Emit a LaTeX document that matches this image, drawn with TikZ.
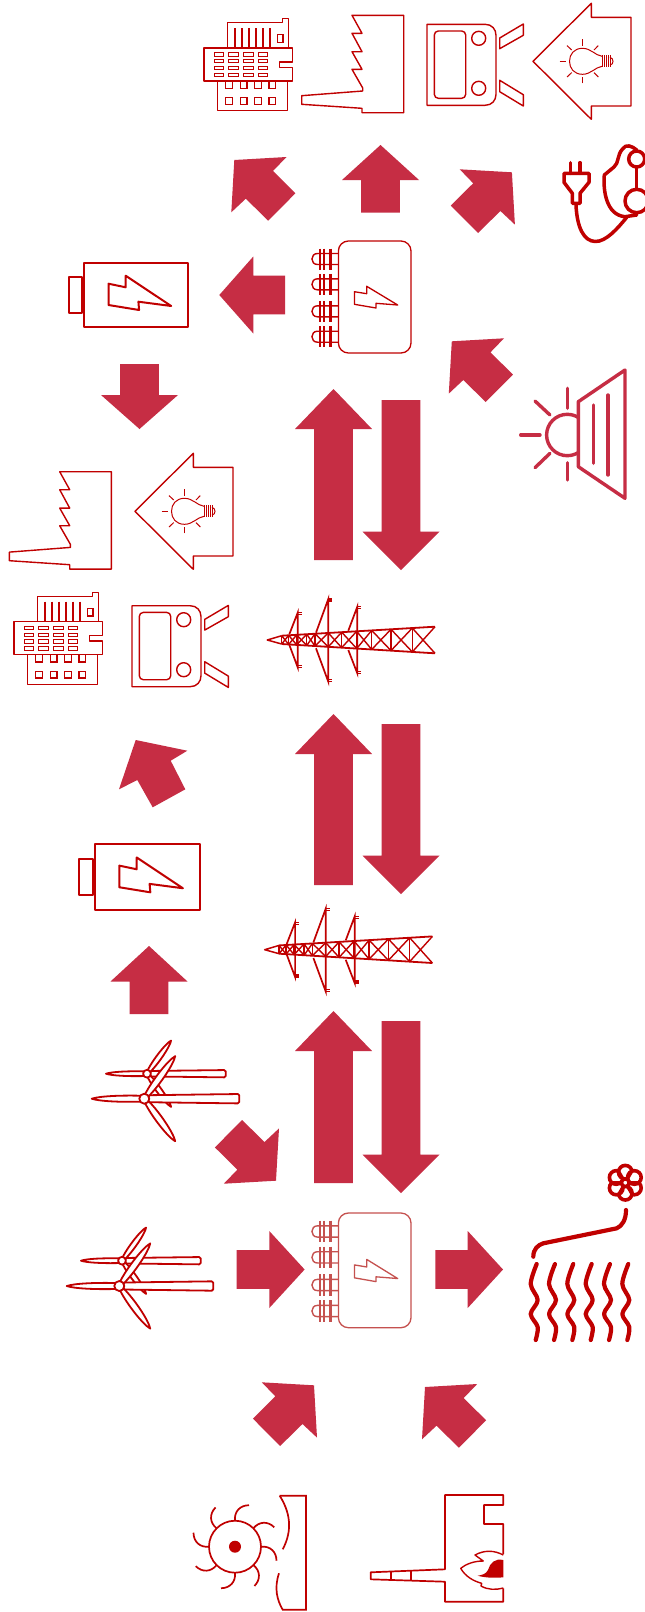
\documentclass[tikz,border=0pt]{standalone}
\definecolor{iconred}{HTML}{C00000}
\definecolor{arrowred}{HTML}{C62D44}
\definecolor{fadedred}{HTML}{C5514F}
\tikzset{
  thinicon/.style={draw=iconred,line width=1.4pt,line join=round,fill=white},
  midicon/.style={draw=iconred,line width=2pt,line join=round,fill=white},
  pipeline/.style={draw=iconred,line width=3.5pt,line cap=round,line join=round},
  pics/factory/.style={code={
    \draw[thinicon] (0,0) -- (51.7,0) -- (51.7,97.4) -- (10,97.4) -- (10,93) -- (-50.3,89) -- (-50.3,80.4) -- (10.7,75.7) -- (10.7,72.7) -- (0,54) -- (10,54) -- (0,36.4) -- (10,36.4) -- (0,18) -- (10,18) -- cycle;
  }},
  pics/house/.style={code={
    \draw[thinicon] (0,0) -- (58.3,-58) -- (58.3,-44) -- (98,-44) -- (98,44.7) -- (58.3,44.7) -- (58.3,58) -- cycle;
    \draw[iconred,line width=1pt] (69,-5) .. controls (62,-6) and (58,-13) .. (49.5,-13) .. controls (41,-13) and (36.5,-7) .. (36.5,0) .. controls (36.5,7) and (41,13) .. (49.5,13) .. controls (58,13) and (62,6) .. (69,5);
    \foreach \sx in {69,71,73,75,77}
      \draw[iconred,line width=1pt] (\sx,-6) -- (\sx,6);
    \draw[iconred,line width=1pt] (77,-4) .. controls (81,-3) and (81,3) .. (77,4);
    \draw[iconred,line width=1pt] (26.7,0) -- (33.3,0) (49.7,-22) -- (49.7,-15.7) (49.7,22) -- (49.7,15.7);
    \draw[iconred,line width=1pt] (34,-15.7) -- (38.7,-11.3) (34,15.7) -- (38.7,11.3) (65.3,-15.7) -- (61,-11.3) (65.3,15.7) -- (61,11.3);
  }},
  pics/tram/.style={code={
    \draw[thinicon] (0,0) -- (58,0) .. controls (65,0) and (69,5) .. (69,11) -- (69,70) .. controls (69,76) and (65,81) .. (58,81) -- (0,81) -- cycle;
    \draw[thinicon,rounded corners=4pt] (7.3,6.7) rectangle (38.7,74);
    \draw[thinicon] (51.7,14) circle[radius=7];
    \draw[thinicon] (51.7,64) circle[radius=7];
    \draw[thinicon] (72.7,13.7) -- (96.3,-0.3) -- (96.3,11) -- (72.7,24.4) -- cycle;
    \draw[thinicon] (72.7,56) -- (96.3,70.4) -- (96.3,81.7) -- (72.7,67.4) -- cycle;
  }},
  pics/building/.style={code={
    \draw[thinicon] (23.7,0) -- (23.7,-25.3) -- (78.7,-25.3) -- (78.7,-29.3) -- (84.3,-29.3) -- (84.3,0);
    \foreach \lx in {31,38,45,52,59,66.3}
      \draw[iconred,line width=2.2pt] (\lx,-20) -- (\lx,0);
    \draw[iconred,line width=1.3pt] (73.3,-13.3) rectangle (79,-5.7);
    \draw[thinicon] (13.7,33) -- (13.7,62.7) -- (83.7,62.7) -- (83.7,33);
    \foreach \lx in {21.7,36.3,50.7,65}{
      \draw[iconred,line width=1.3pt] (\lx,33) -- (\lx,40.3) -- (\lx+6.7,40.3) -- (\lx+6.7,33);
      \draw[iconred,line width=1.3pt] (\lx,49.7) rectangle (\lx+6.7,56.3);
    }
    \draw[thinicon] (0,0) -- (88.3,0) -- (88.3,14) -- (75.3,14) -- (75.3,19.3) -- (88.3,19.3) -- (88.3,33) -- (0,33) -- cycle;
    \foreach \lx in {10,24.7,39.7,54.3}
      \foreach \ly in {4.7,11.3,18,25}
        \draw[iconred,line width=.9pt] (\lx,\ly) rectangle (\lx+9.3,\ly+3.3);
  }},
  pics/battery/.style={code={
    \draw[midicon] (0,0) rectangle (104,64.3);
    \draw[midicon] (-15.3,14) rectangle (-1.9,50);
    \draw[midicon] (24.2,21) -- (41.4,24.6) -- (41.4,13) -- (86.9,43.3) -- (54.1,39) -- (54.8,47.3) -- (24.2,42.3) -- cycle;
  }},
  pics/converter/.style={code={
    \draw[draw=#1,line width=1.3pt,rounded corners=10pt] (0,0) rectangle (72.6,112);
    \foreach \cy in {18,43.3,70.3,95.7}{
      \draw[draw=#1,line width=1.4pt] (0,\cy-5.5) -- (-20.9,\cy-5.5) .. controls (-28.3,\cy-5.5) and (-28.3,\cy+5.5) .. (-20.9,\cy+5.5) -- (0,\cy+5.5);
      \draw[draw=#1,line width=1.7pt] (-18.4,\cy-10.5) -- (-18.4,\cy+10.5) (-14.2,\cy-10.5) -- (-14.2,\cy+10.5);
      \draw[draw=#1,line width=3.4pt] (-8,\cy-10.5) -- (-8,\cy+10.5);
    }
    \draw[draw=#1,line width=1.3pt,line join=round] (16,50.7) -- (28.3,52.7) -- (28.3,45.3) -- (59.3,64) -- (37.6,62.3) -- (37.6,67) -- (16,63.3) -- cycle;
  }},
  pics/tower/.style={code={
    \draw[iconred,line width=1.5pt,line join=round] (14.4,-4.3) -- (0,0) -- (14.4,4);
    \draw[iconred,line width=1.8pt] (14.4,-4.3) -- (167.7,-13.3) (14.4,4) -- (167.7,13.3);
    \draw[iconred,line width=1.5pt] (14.4,-4.3) -- (14.4,4);
    \foreach \xb [remember=\xb as \xa (initially 14.4)] in {21.4,29.4,39.4,47.7,61,74.4,89.4,104.4,123.7,145,167.7}{
      \draw[iconred,line width=1.4pt] (\xa,{-4.3-(\xa-14.4)*0.0587}) -- (\xb,{4+(\xb-14.4)*0.0607});
      \draw[iconred,line width=1.4pt] (\xa,{4+(\xa-14.4)*0.0607}) -- (\xb,{-4.3-(\xb-14.4)*0.0587});
      \ifdim\xb pt<167pt
        \draw[iconred,line width=1.4pt] (\xb,{-4.3-(\xb-14.4)*0.0587}) -- (\xb,{4+(\xb-14.4)*0.0607});
      \fi
    }
    % arms
    \draw[iconred,line width=1.7pt] (22,-5.7) -- (30.4,-27.3) -- (30.4,27.3) -- (22,4.8);
    \draw[iconred,line width=1.7pt] (48.7,-7.3) -- (61,-41) -- (61,41.7) -- (48.7,8.3);
    \draw[iconred,line width=1.7pt] (81,-9.3) -- (90,-33.3) -- (90,33.3) -- (81,10);
    \draw[iconred,line width=1.4pt] (30.4,-27.3) -- (34.4,-27.3) (30.4,-25.3) -- (34.4,-25.3) (30.4,27.3) -- (34.4,27.3) (30.4,25.3) -- (34.4,25.3);
    \draw[iconred,line width=1.4pt] (61,-41) -- (65,-41) (61,-39) -- (65,-39) (61,41.7) -- (65,41.7) (61,39.7) -- (65,39.7);
    \draw[iconred,line width=1.4pt] (90,-33.3) -- (94,-33.3) (90,-31.3) -- (94,-31.3) (90,33.3) -- (94,33.3) (90,31.3) -- (94,31.3);
  }},
  pics/turbine/.style={code={
    \draw[midicon,line width=1.8pt] (-4,-3) .. controls (-25,-3.5) and (-45,-2.5) .. (-52.6,0) .. controls (-45,2.5) and (-25,3.5) .. (-4,3) -- cycle;
    \draw[midicon,line width=1.8pt,rotate=-54] (4,-2) .. controls (20,-4.5) and (45,-3.5) .. (52.6,0) .. controls (45,3.5) and (20,4.5) .. (4,2) -- cycle;
    \draw[midicon,line width=1.8pt,rounded corners=1.5pt] (4,-3.5) -- (#1,-4.7) -- (#1,4.7) -- (4,3.5) -- cycle;
    \draw[midicon,line width=1.8pt,rotate=54] (4,-2) .. controls (20,-4.5) and (45,-3.5) .. (52.6,0) .. controls (45,3.5) and (20,4.5) .. (4,2) -- cycle;
    \draw[midicon,line width=1.8pt] (0,0) circle[radius=5];
  }},
  pics/diagtip/.style={code={
    \fill[arrowred] (0,0) -- (52.2,-3) -- (38.7,11) -- (61.1,33.3) -- (33.9,60.7) -- (11.5,38.7) -- (-3,52.3) -- cycle;
  }}
}
\newcommand{\blockarrow}[4]{\fill[arrowred,shift={(#1)},rotate=#2] (0,-19.3) -- (#3-#4,-19.3) -- (#3-#4,-38.5) -- (#3,0) -- (#3-#4,38.5) -- (#3-#4,19.3) -- (0,19.3) -- cycle;}
\begin{document}
\begin{tikzpicture}[x=1pt,y=-1pt]
\clip (0,0) rectangle (645,1612);
\fill[white] (0,0) rectangle (645,1612);
% loads, top row
\pic (bldga) at (204,48) {building};
\pic (facta) at (352,15.3) {factory};
\pic (trama) at (427,24.3) {tram};
\pic (housea) at (533,61.3) {house};
% loads, second group
\pic (factb) at (59.7,471.7) {factory};
\pic (houseb) at (135,511.3) {house};
\pic (bldgb) at (14,621.7) {building};
\pic (tramb) at (132,605.7) {tram};
% storage and grid
\pic (batta) at (84.3,262.7) {battery};
\pic[scale=1.015] (battb) at (94.7,844.3) {battery};
\pic (convup) at (338.4,241) {converter={iconred}};
\pic[yscale=1.024] (convlow) at (338.4,1213) {converter={fadedred}};
\pic (towera) at (267.3,640) {tower};
\pic (towerb) at (264.7,949.7) {tower};
% wind
\pic[scale=.78] (windc) at (147,1073.7) {turbine={101}};
\pic (windd) at (144.3,1098.7) {turbine={95}};
\pic[scale=.78] (winda) at (122,1260.7) {turbine={101}};
\pic (windb) at (119.3,1286) {turbine={94}};
% plug and cable
\draw[pipeline] (570.7,162.7) -- (570.7,173.3) (580,162.7) -- (580,173.3);
\draw[pipeline] (564,173.3) -- (589,173.3) -- (589,182.3) -- (580,193.3) -- (580,203.3) -- (572.3,203.3) -- (572.3,193.3) -- (564,182.3) -- cycle;
\draw[pipeline] (576,205) .. controls (577,228) and (584,241) .. (595,241.5) .. controls (606,242) and (618,228) .. (626.7,217.3);
\draw[pipeline] (636.7,150) .. controls (632,146) and (626,143.5) .. (622.5,149) .. controls (617,155) and (619,163) .. (614,167) -- (604.3,175) .. controls (603,190) and (606,215) .. (625,216.7) -- (636.7,215);
\draw[pipeline] (636.7,159) circle[radius=8];
\draw[pipeline] (636.7,168.3) -- (636.7,190);
\draw[pipeline,fill=white] (636.7,201) circle[radius=11.7];
% lamp
\begin{scope}[draw=arrowred,line width=3.4pt,line cap=round,line join=round]
\draw (567.3,435) circle[radius=20.7];
\draw[fill=white] (578.3,401.7) -- (625,370) -- (625,498.3) -- (578.3,466.7) -- cycle;
\draw (593.3,405) -- (593.3,463.3) (608,395) -- (608,475);
\draw (567.3,388.3) -- (567.3,408.3) (567.3,462.7) -- (567.3,480) (520.7,435) -- (540,435);
\draw (535,401) -- (550,415) (535,467.7) -- (550,453.3);
\end{scope}
% heat
\draw[pipeline,line width=4.2pt] (533.3,1256.7) .. controls (533.3,1249) and (538,1245) .. (543.3,1243.3) -- (616.7,1228.3) .. controls (622,1226) and (626,1220) .. (626,1210);
\foreach \wx in {535.7,554,572.3,590.7,609,627.3}
  \draw[pipeline,line width=4.2pt] plot[smooth,tension=.55] coordinates {(\wx+1,1264) (\wx-5,1284) (\wx+2,1300) (\wx-5,1314) (\wx+2,1327) (\wx,1340)};
\begin{scope}[shift={(625.3,1182.7)}]
\foreach \va in {30,90,...,330}
  \draw[iconred,line width=3.6pt,fill=white] (\va:10.5) circle[radius=6.8];
\foreach \va in {0,60,...,300}
  \draw[iconred,line width=3pt] (0,0) -- (\va:14);
\draw[iconred,line width=1.5pt,fill=white] (0,0) circle[radius=2.8];
\end{scope}
% water wheel
\begin{scope}[shift={(235,1546.7)}]
\draw[iconred,line width=1.7pt] (0,0) circle[radius=26];
\fill[iconred] (0,0) circle[radius=6];
\foreach \va in {0,45,...,315}
  \draw[iconred,line width=1.7pt,rotate=\va] (26,0) .. controls (35,-1) and (41.5,5) .. (41.5,14);
\end{scope}
\draw[iconred,line width=1.7pt] (279.7,1495.7) -- (306,1495.7) -- (306,1609.7) -- (282.7,1609.7) .. controls (277,1600) and (274,1588) .. (279,1573.3);
\draw[iconred,line width=1.7pt] (279.7,1495.7) .. controls (290,1512) and (293,1530) .. (282.7,1549.3);
% furnace
\draw[iconred,line width=1.7pt,line join=round] (503.3,1554) -- (503.3,1524) -- (484,1524) -- (484,1505) -- (503.3,1505) -- (503.3,1495) -- (445,1495) -- (445,1569.3) -- (370.7,1572.3) -- (370.7,1579.3) -- (445,1581.7) -- (445,1601.7) -- (503.3,1601.7) -- (503.3,1588.3);
\draw[iconred,line width=1.7pt] (391,1572) -- (391,1580);
\draw[iconred,line width=2.2pt] (410.7,1571) -- (410.7,1580.5);
\draw[iconred,line width=1.4pt,line join=round] (503.3,1555) .. controls (494,1550) and (484,1550) .. (475,1555) -- (483.3,1561) .. controls (474,1561) and (466,1564) .. (460.7,1568.3) .. controls (465,1576) and (473,1581) .. (481.7,1583.3) -- (481,1586) .. controls (488,1590) and (496,1590) .. (503.3,1588);
\fill[iconred] (503.3,1560) .. controls (495,1558) and (490,1563) .. (488,1570) .. controls (486,1574) and (482,1575) .. (477.7,1575.7) .. controls (486,1578) and (495,1578) .. (503.3,1577.3) -- cycle;
% block arrows around the upper converter
\blockarrow{380.5,212.7}{90}{67.7}{35}
\blockarrow{285,295}{180}{65.7}{34}
\blockarrow{139.5,364}{-90}{65}{34}
\pic (dga) at (234.3,160) {diagtip};
\pic[xscale=-1] (dgb) at (511.9,172.3) {diagtip};
\pic (dgc) at (451.8,341.3) {diagtip};
% exchange with the grid
\blockarrow{333.5,560}{90}{171}{40}
\blockarrow{401,400}{-90}{170}{38.5}
\blockarrow{333.5,885}{90}{171}{40}
\blockarrow{401,724}{-90}{170}{38.5}
\blockarrow{333.5,1183}{90}{172}{40}
\blockarrow{401,1021}{-90}{172}{38.5}
% storage and wind
\fill[arrowred] (135.7,740) -- (187.3,750.7) -- (170.7,760.7) -- (185.3,789.3) -- (152.7,807.3) -- (137.3,780) -- (119,789.3) -- cycle;
\blockarrow{149,1014}{90}{68}{35.5}
\pic[xscale=-1,yscale=-1] (dgd) at (276,1180.7) {diagtip};
% lower converter
\blockarrow{236.6,1269.5}{0}{68}{35.3}
\blockarrow{435.3,1269.5}{0}{67.7}{35.3}
\pic[xscale=-1] (dge) at (314,1385.3) {diagtip};
\pic (dgf) at (425,1387) {diagtip};
\end{tikzpicture}
\end{document}
